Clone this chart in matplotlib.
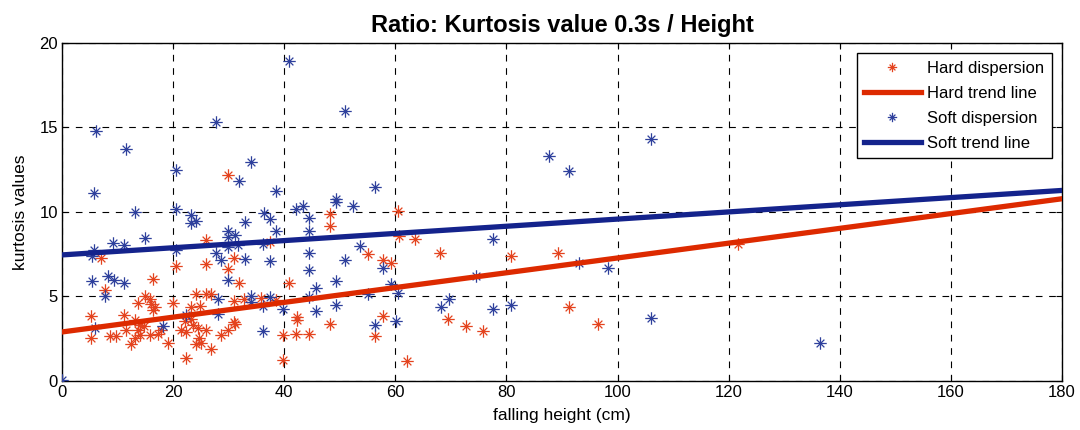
import numpy as np
import matplotlib
matplotlib.use("Agg")
import matplotlib.pyplot as plt
from matplotlib.path import Path

# Hard surface measurements: falling height (cm) and kurtosis value at 0.3 s
hard_x = [29.9, 25.9, 7.0, 20.6, 25.9, 29.9, 31.0, 16.4, 31.9, 7.7, 14.9, 15.8, 13.7, 16.1,
          16.7, 16.4, 19.9, 24.2, 26.0, 26.8, 31.0, 32.8, 23.2, 24.8, 5.3, 11.2, 13.1, 14.0,
          14.8, 13.6, 11.6, 22.1, 23.2, 23.6, 21.5, 22.3, 24.4, 26.0, 31.0, 31.1, 29.9, 28.7,
          17.8, 17.3, 15.8, 14.0, 13.1, 12.4, 9.8, 8.6, 5.3, 19.0, 24.7, 24.2, 25.1, 26.8,
          22.3, 48.2, 48.2, 60.5, 37.4, 55.1, 57.7, 59.2, 40.9, 38.6, 35.9, 42.3, 42.3, 48.2,
          57.7, 56.3, 39.7, 42.1, 44.5, 39.7, 60.7, 63.5, 68.0, 80.9, 89.3, 69.5, 72.7, 75.8,
          91.3, 96.5, 62.1, 121.7]
hard_y = [12.21, 8.36, 7.28, 6.78, 6.94, 6.65, 7.30, 6.05, 5.82, 5.36, 5.00, 4.87, 4.63, 4.57,
          4.37, 4.22, 4.63, 5.16, 5.16, 5.12, 4.73, 4.87, 4.37, 4.43, 3.82, 3.88, 3.63, 3.29,
          3.23, 2.99, 2.99, 3.54, 3.68, 3.29, 2.99, 2.89, 3.15, 2.99, 3.48, 3.39, 3.03, 2.74,
          2.99, 2.80, 2.70, 2.70, 2.54, 2.20, 2.64, 2.64, 2.56, 2.26, 2.54, 2.16, 2.24, 1.91,
          1.35, 9.86, 9.17, 10.06, 8.22, 7.49, 7.14, 7.00, 5.79, 4.81, 4.90, 3.78, 3.63, 3.39,
          3.82, 2.64, 2.74, 2.80, 2.80, 1.26, 8.60, 8.38, 7.57, 7.37, 7.57, 3.68, 3.25, 2.95,
          4.37, 3.39, 1.17, 8.13]

# Soft surface measurements
soft_x = [6.1, 11.6, 27.8, 5.8, 20.6, 34.0, 31.9, 13.1, 20.5, 23.2, 23.2, 24.2, 32.9, 14.9,
          9.2, 11.2, 5.8, 5.45, 29.9, 29.9, 31.1, 29.9, 31.7, 27.8, 28.7, 32.9, 20.6, 5.45,
          8.2, 9.4, 11.2, 7.7, 29.9, 28.0, 34.1, 34.1, 22.3, 28.0, 5.9, 18.2, 0.0,
          40.9, 51.0, 38.5, 56.3, 49.4, 49.4, 52.3, 42.1, 43.3, 36.4, 37.4, 44.5, 38.5, 44.5,
          36.2, 53.6, 44.5, 37.4, 51.0, 57.7, 44.5, 49.4, 45.7, 59.2, 60.5, 37.4, 44.5, 55.1,
          36.2, 49.4, 39.7, 45.7, 56.3, 60.2, 36.2, 87.7, 91.3, 77.5, 74.5, 93.1, 98.3, 68.2,
          69.7, 77.5, 80.9, 106.0, 106.0, 136.4]
soft_y = [14.80, 13.75, 15.33, 11.13, 12.47, 12.96, 11.84, 10.00, 10.16, 9.80, 9.37, 9.45,
          9.41, 8.48, 8.19, 8.03, 7.73, 7.39, 8.86, 8.52, 8.62, 7.93, 8.03, 7.60, 7.14, 7.20,
          7.77, 5.91, 6.23, 6.00, 5.80, 5.00, 5.95, 4.87, 5.00, 4.67, 3.88, 3.94, 3.15, 3.23,
          0.03, 18.95, 15.97, 11.23, 11.45, 10.79, 10.59, 10.36, 10.16, 10.36, 9.94, 9.57,
          9.67, 8.88, 8.88, 8.13, 7.97, 7.57, 7.08, 7.18, 6.68, 6.55, 5.91, 5.50, 5.76, 5.20,
          4.97, 4.97, 5.12, 4.43, 4.51, 4.28, 4.14, 3.33, 3.54, 2.95, 13.32, 12.43, 8.42, 6.19,
          6.98, 6.68, 4.37, 4.87, 4.28, 4.47, 14.29, 3.72, 2.26]

# Linear trend coefficients (slope, intercept)
hard_trend = (0.0438, 2.90)
soft_trend = (0.0212, 7.46)

x_ticks = [0, 20, 40, 60, 80, 100, 120, 140, 160, 180]
y_ticks = [0, 5, 10, 15, 20]

red_pts = "#E4431E"
red_line = "#DD2A00"
blue_pts = "#2E409C"
blue_line = "#14238C"

plt.rcParams["font.family"] = ["Liberation Sans", "DejaVu Sans"]

# Asterisk marker: long horizontal/vertical arms, shorter diagonal arms
d = 0.62
asterisk = Path(
    [(-1, 0), (1, 0), (0, -1), (0, 1), (-d, -d), (d, d), (-d, d), (d, -d)],
    [Path.MOVETO, Path.LINETO] * 4,
)

fig = plt.figure(figsize=(10.8, 4.3), dpi=100)
ax = fig.add_axes([0.0574, 0.114, 0.926, 0.786])

x_fit = np.linspace(0, 180, 400)

ax.plot(hard_x, hard_y, linestyle="none", marker=asterisk, markersize=9,
        markeredgewidth=0.9, markerfacecolor="none", color=red_pts,
        label="Hard dispersion", zorder=3)
ax.plot(x_fit, hard_trend[0] * x_fit + hard_trend[1], color=red_line, linewidth=3.8,
        label="Hard trend line", zorder=4)
ax.plot(soft_x, soft_y, linestyle="none", marker=asterisk, markersize=9,
        markeredgewidth=0.9, markerfacecolor="none", color=blue_pts,
        label="Soft dispersion", zorder=3)
ax.plot(x_fit, soft_trend[0] * x_fit + soft_trend[1], color=blue_line, linewidth=3.8,
        label="Soft trend line", zorder=4)

ax.set_xlim(0, 180)
ax.set_ylim(0, 20)
ax.set_xticks(x_ticks)
ax.set_yticks(y_ticks)
ax.grid(True, color="black", linestyle=(0, (6, 6)), linewidth=0.8)
ax.tick_params(direction="in", top=True, right=True, labelsize=12, length=4, pad=3)
for sp in ax.spines.values():
    sp.set_linewidth(1.0)

ax.set_title("Ratio: Kurtosis value 0.3s / Height", fontsize=17, fontweight="bold", pad=8)
ax.set_xlabel("falling height (cm)", fontsize=12.5, labelpad=6)
ax.set_ylabel("kurtosis values", fontsize=12.5, labelpad=8)

leg = ax.legend(loc="upper right", fontsize=12, fancybox=False, framealpha=1,
                edgecolor="black", borderaxespad=0.6, handlelength=3.4,
                handletextpad=0.4, labelspacing=0.6, borderpad=0.45,
                markerscale=0.75)
leg.get_frame().set_linewidth(1.0)

fig.savefig("out.png", dpi=100)
